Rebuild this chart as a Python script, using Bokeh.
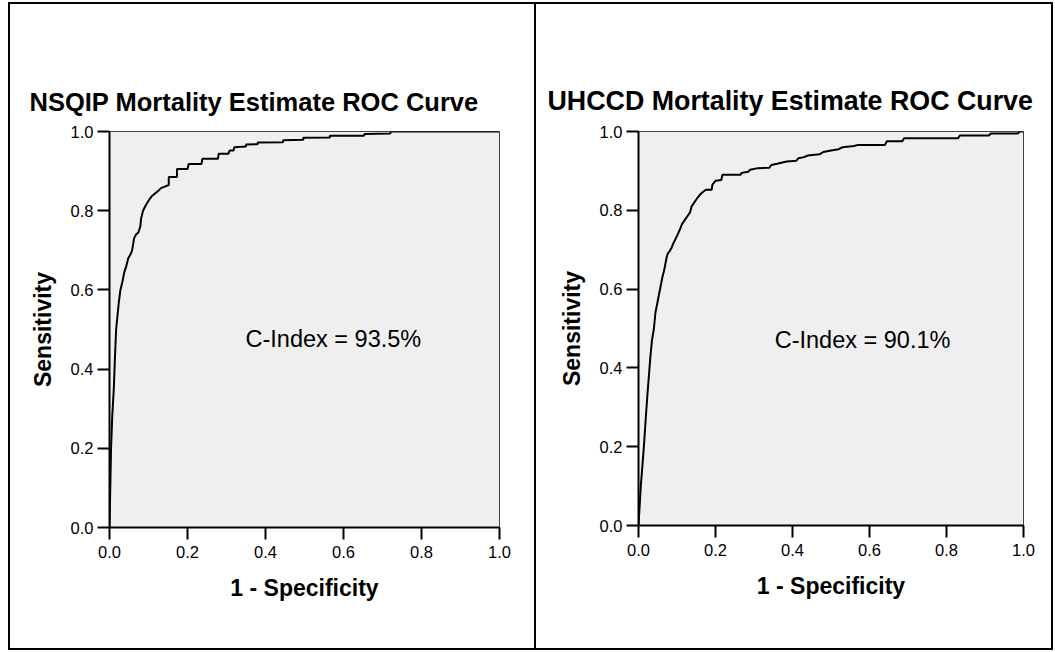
from bokeh.plotting import figure
from bokeh.layouts import row
from bokeh.models import Range1d, FixedTicker, PrintfTickFormatter, Label, Spacer
from bokeh.embed import file_html
from bokeh.resources import INLINE

# ---- data ----
nsqip_fpr = [0, 0.002, 0.004, 0.007, 0.011, 0.014, 0.017, 0.021, 0.024, 0.028, 0.033, 0.038, 0.043, 0.048,
             0.054, 0.058, 0.063, 0.068, 0.074, 0.079, 0.081, 0.086, 0.092, 0.1, 0.107, 0.115, 0.125, 0.132,
             0.14, 0.152, 0.152, 0.173, 0.173, 0.2, 0.203, 0.236, 0.238, 0.278, 0.28, 0.305, 0.308, 0.318,
             0.32, 0.35, 0.35, 0.38, 0.38, 0.445, 0.445, 0.497, 0.497, 0.565, 0.565, 0.652, 0.655, 0.72,
             0.722, 1.0]
nsqip_tpr = [0, 0.1, 0.2, 0.28, 0.35, 0.43, 0.5, 0.54, 0.57, 0.6, 0.62, 0.645, 0.66, 0.68,
             0.69, 0.7, 0.73, 0.74, 0.745, 0.76, 0.78, 0.8, 0.812, 0.825, 0.835, 0.842, 0.85, 0.857,
             0.86, 0.865, 0.885, 0.885, 0.905, 0.905, 0.918, 0.918, 0.931, 0.931, 0.944, 0.944, 0.952, 0.952,
             0.96, 0.962, 0.967, 0.968, 0.972, 0.973, 0.978, 0.979, 0.984, 0.985, 0.989, 0.989, 0.994, 0.995,
             1.0, 1.0]

uhccd_fpr = [0, 0.003, 0.006, 0.01, 0.014, 0.018, 0.023, 0.027, 0.031, 0.035, 0.04, 0.044, 0.048, 0.053,
             0.058, 0.062, 0.066, 0.07, 0.073, 0.076, 0.08, 0.086, 0.09, 0.095, 0.1, 0.107, 0.113, 0.12,
             0.127, 0.134, 0.138, 0.145, 0.152, 0.16, 0.168, 0.175, 0.19, 0.192, 0.2, 0.215, 0.218, 0.265,
             0.268, 0.285, 0.29, 0.31, 0.34, 0.345, 0.36, 0.385, 0.41, 0.415, 0.43, 0.44, 0.47, 0.48, 0.5,
             0.52, 0.53, 0.56, 0.57, 0.64, 0.645, 0.685, 0.69, 0.83, 0.835, 0.91, 0.915, 0.985, 0.99, 1.0]
uhccd_tpr = [0, 0.05, 0.1, 0.15, 0.2, 0.26, 0.33, 0.38, 0.43, 0.47, 0.5, 0.54, 0.56, 0.585,
             0.61, 0.63, 0.645, 0.665, 0.68, 0.69, 0.695, 0.705, 0.715, 0.725, 0.735, 0.75, 0.765, 0.775,
             0.785, 0.795, 0.81, 0.82, 0.83, 0.84, 0.847, 0.852, 0.852, 0.865, 0.875, 0.877, 0.89, 0.89,
             0.895, 0.898, 0.903, 0.907, 0.908, 0.915, 0.918, 0.924, 0.926, 0.932, 0.935, 0.939, 0.942, 0.948, 0.952,
             0.955, 0.96, 0.963, 0.966, 0.966, 0.975, 0.975, 0.983, 0.983, 0.99, 0.99, 0.995, 0.995, 1.0, 1.0]

ticks = [0.0, 0.2, 0.4, 0.6, 0.8, 1.0]
titles = ["NSQIP Mortality Estimate ROC Curve", "UHCCD Mortality Estimate ROC Curve"]
c_index = ["C-Index = 93.5%", "C-Index = 90.1%"]
x_label = "1 - Specificity"
y_label = "Sensitivity"

FONT = "Liberation Sans"


def make_panel(fpr, tpr, title, cidx, fw, fh, bl, br, bt, bb, title_offset, title_size, lab_x, lab_y):
    p = figure(frame_width=fw, frame_height=fh,
               min_border_left=bl, min_border_right=br, min_border_top=bt, min_border_bottom=bb,
               x_range=Range1d(0, 1), y_range=Range1d(0, 1),
               output_backend="svg", toolbar_location=None,
               background_fill_color="#efefef", border_fill_color="white",
               outline_line_color="#444444", outline_line_width=1)
    p.grid.visible = False
    p.title.text = title
    p.title.text_font = FONT
    p.title.text_font_size = title_size
    p.title.text_font_style = "bold"
    p.title.text_color = "black"
    p.title.align = "left"
    p.title.offset = title_offset
    p.title.standoff = 32
    for ax in (p.xaxis[0], p.yaxis[0]):
        ax.ticker = FixedTicker(ticks=ticks)
        ax.formatter = PrintfTickFormatter(format="%.1f")
        ax.major_tick_in = 0
        ax.major_tick_out = 12
        ax.minor_tick_line_color = None
        ax.major_tick_line_width = 2
        ax.axis_line_width = 2
        ax.axis_line_color = "black"
        ax.major_tick_line_color = "black"
        ax.major_label_text_font = FONT
        ax.major_label_text_font_size = "16.5px"
        ax.major_label_text_color = "black"
        ax.axis_label_text_font = FONT
        ax.axis_label_text_font_size = "23px"
        ax.axis_label_text_font_style = "bold"
        ax.axis_label_text_color = "black"
    p.xaxis.axis_label = x_label
    p.yaxis.axis_label = y_label
    p.xaxis.major_label_standoff = 6
    p.yaxis.major_label_standoff = 4
    p.xaxis.axis_label_standoff = 14
    p.yaxis.axis_label_standoff = 12
    p.line(fpr, tpr, line_color="black", line_width=2)
    p.add_layout(Label(x=lab_x, y=lab_y, text=cidx, text_font=FONT, text_font_size="23.5px",
                       text_align="center", text_baseline="middle", text_color="black"))
    return p


p1 = make_panel(nsqip_fpr, nsqip_tpr, titles[0], c_index[0], 390, 396, 99, 35, 127, 121, -80, "25.5px", 0.574, 0.475)
p2 = make_panel(uhccd_fpr, uhccd_tpr, titles[1], c_index[1], 385, 394, 102, 28, 126, 124, -91, "26.8px", 0.582, 0.47)

divider = Spacer(width=2, height=644, styles={"background-color": "black"})
layout = row(p1, divider, p2, styles={"border": "2px solid black"}, margin=(2, 0, 0, 8))

open("out.html", "w").write(file_html(layout, INLINE))
